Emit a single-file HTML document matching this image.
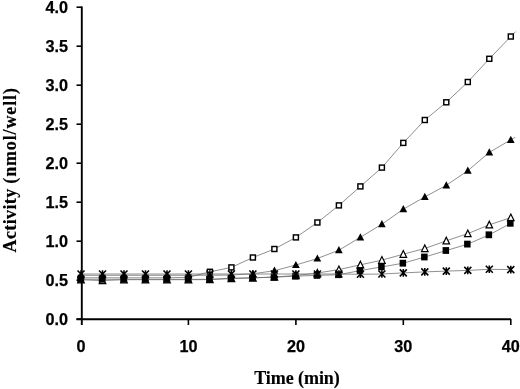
<!DOCTYPE html>
<html><head><meta charset="utf-8"><title>Activity vs Time</title>
<style>
html,body{margin:0;padding:0;background:#fff;}
svg{display:block;}
.tk{font-family:"Liberation Sans",sans-serif;font-weight:bold;font-size:16.2px;fill:#000;stroke:#000;stroke-width:0.25px;}
.lb{font-family:"Liberation Serif",serif;font-weight:bold;font-size:18px;fill:#000;stroke:#000;stroke-width:0.15px;}
</style></head><body>
<svg width="520" height="389" viewBox="0 0 520 389">
<rect width="520" height="389" fill="#fff"/>
<polyline points="81.0,277.8 102.5,277.8 124.0,277.8 145.5,277.8 167.0,277.8 188.4,277.3 209.9,271.8 231.4,267.4 252.9,257.5 274.4,249.0 295.9,237.4 317.4,222.5 338.9,205.4 360.4,186.4 381.9,167.6 403.3,142.9 424.8,120.0 446.3,102.3 467.8,82.0 489.3,58.8 510.8,36.5 515.6,31.6" fill="none" stroke="#6a6a6a" stroke-width="0.75"/>
<rect x="78.5" y="275.3" width="5" height="5" fill="#fff" stroke="#000" stroke-width="1.45"/>
<rect x="100.0" y="275.3" width="5" height="5" fill="#fff" stroke="#000" stroke-width="1.45"/>
<rect x="121.5" y="275.3" width="5" height="5" fill="#fff" stroke="#000" stroke-width="1.45"/>
<rect x="143.0" y="275.3" width="5" height="5" fill="#fff" stroke="#000" stroke-width="1.45"/>
<rect x="164.5" y="275.3" width="5" height="5" fill="#fff" stroke="#000" stroke-width="1.45"/>
<rect x="185.9" y="274.8" width="5" height="5" fill="#fff" stroke="#000" stroke-width="1.45"/>
<rect x="207.4" y="269.3" width="5" height="5" fill="#fff" stroke="#000" stroke-width="1.45"/>
<rect x="228.9" y="264.9" width="5" height="5" fill="#fff" stroke="#000" stroke-width="1.45"/>
<rect x="250.4" y="255.0" width="5" height="5" fill="#fff" stroke="#000" stroke-width="1.45"/>
<rect x="271.9" y="246.5" width="5" height="5" fill="#fff" stroke="#000" stroke-width="1.45"/>
<rect x="293.4" y="234.9" width="5" height="5" fill="#fff" stroke="#000" stroke-width="1.45"/>
<rect x="314.9" y="220.0" width="5" height="5" fill="#fff" stroke="#000" stroke-width="1.45"/>
<rect x="336.4" y="202.9" width="5" height="5" fill="#fff" stroke="#000" stroke-width="1.45"/>
<rect x="357.9" y="183.9" width="5" height="5" fill="#fff" stroke="#000" stroke-width="1.45"/>
<rect x="379.4" y="165.1" width="5" height="5" fill="#fff" stroke="#000" stroke-width="1.45"/>
<rect x="400.8" y="140.4" width="5" height="5" fill="#fff" stroke="#000" stroke-width="1.45"/>
<rect x="422.3" y="117.5" width="5" height="5" fill="#fff" stroke="#000" stroke-width="1.45"/>
<rect x="443.8" y="99.8" width="5" height="5" fill="#fff" stroke="#000" stroke-width="1.45"/>
<rect x="465.3" y="79.5" width="5" height="5" fill="#fff" stroke="#000" stroke-width="1.45"/>
<rect x="486.8" y="56.3" width="5" height="5" fill="#fff" stroke="#000" stroke-width="1.45"/>
<rect x="508.3" y="34.0" width="5" height="5" fill="#fff" stroke="#000" stroke-width="1.45"/>
<polyline points="81.0,275.3 102.5,275.3 124.0,275.3 145.5,275.3 167.0,275.3 188.4,275.3 209.9,275.3 231.4,275.0 252.9,273.8 274.4,270.7 295.9,265.0 317.4,258.5 338.9,250.2 360.4,237.3 381.9,224.2 403.3,209.2 424.8,196.9 446.3,185.3 467.8,170.7 489.3,152.4 510.8,139.8 515.2,137.3" fill="none" stroke="#6a6a6a" stroke-width="0.75"/>
<path d="M81.0 271.2L84.8 278.4L77.2 278.4Z" fill="#000"/>
<path d="M102.5 271.2L106.3 278.4L98.6 278.4Z" fill="#000"/>
<path d="M124.0 271.2L127.8 278.4L120.1 278.4Z" fill="#000"/>
<path d="M145.5 271.2L149.3 278.4L141.6 278.4Z" fill="#000"/>
<path d="M167.0 271.2L170.8 278.4L163.1 278.4Z" fill="#000"/>
<path d="M188.4 271.2L192.3 278.4L184.6 278.4Z" fill="#000"/>
<path d="M209.9 271.2L213.8 278.4L206.1 278.4Z" fill="#000"/>
<path d="M231.4 270.9L235.3 278.1L227.6 278.1Z" fill="#000"/>
<path d="M252.9 269.7L256.8 276.9L249.1 276.9Z" fill="#000"/>
<path d="M274.4 266.6L278.3 273.8L270.6 273.8Z" fill="#000"/>
<path d="M295.9 260.9L299.8 268.1L292.0 268.1Z" fill="#000"/>
<path d="M317.4 254.4L321.2 261.6L313.5 261.6Z" fill="#000"/>
<path d="M338.9 246.1L342.7 253.3L335.0 253.3Z" fill="#000"/>
<path d="M360.4 233.2L364.2 240.4L356.5 240.4Z" fill="#000"/>
<path d="M381.9 220.1L385.7 227.3L378.0 227.3Z" fill="#000"/>
<path d="M403.3 205.1L407.2 212.3L399.5 212.3Z" fill="#000"/>
<path d="M424.8 192.8L428.7 200.0L421.0 200.0Z" fill="#000"/>
<path d="M446.3 181.2L450.2 188.4L442.5 188.4Z" fill="#000"/>
<path d="M467.8 166.6L471.7 173.8L464.0 173.8Z" fill="#000"/>
<path d="M489.3 148.3L493.2 155.5L485.5 155.5Z" fill="#000"/>
<path d="M510.8 135.7L514.6 142.9L506.9 142.9Z" fill="#000"/>
<polyline points="81.0,279.8 102.5,280.6 124.0,279.7 145.5,279.7 167.0,279.7 188.4,279.7 209.9,279.6 231.4,278.6 252.9,278.0 274.4,277.0 295.9,275.5 317.4,273.0 338.9,269.6 360.4,264.8 381.9,260.2 403.3,254.2 424.8,248.5 446.3,240.8 467.8,233.6 489.3,224.8 510.8,217.6" fill="none" stroke="#6a6a6a" stroke-width="0.75"/>
<path d="M81.0 276.2L84.3 282.9L77.7 282.9Z" fill="#fff" stroke="#000" stroke-width="1.2"/>
<path d="M102.5 277.0L105.8 283.7L99.2 283.7Z" fill="#fff" stroke="#000" stroke-width="1.2"/>
<path d="M124.0 276.1L127.3 282.8L120.7 282.8Z" fill="#fff" stroke="#000" stroke-width="1.2"/>
<path d="M145.5 276.1L148.8 282.8L142.2 282.8Z" fill="#fff" stroke="#000" stroke-width="1.2"/>
<path d="M167.0 276.1L170.3 282.8L163.7 282.8Z" fill="#fff" stroke="#000" stroke-width="1.2"/>
<path d="M188.4 276.1L191.8 282.8L185.1 282.8Z" fill="#fff" stroke="#000" stroke-width="1.2"/>
<path d="M209.9 276.0L213.2 282.7L206.6 282.7Z" fill="#fff" stroke="#000" stroke-width="1.2"/>
<path d="M231.4 275.0L234.7 281.7L228.1 281.7Z" fill="#fff" stroke="#000" stroke-width="1.2"/>
<path d="M252.9 274.4L256.2 281.1L249.6 281.1Z" fill="#fff" stroke="#000" stroke-width="1.2"/>
<path d="M274.4 273.4L277.7 280.1L271.1 280.1Z" fill="#fff" stroke="#000" stroke-width="1.2"/>
<path d="M295.9 271.9L299.2 278.6L292.6 278.6Z" fill="#fff" stroke="#000" stroke-width="1.2"/>
<path d="M317.4 269.4L320.7 276.1L314.1 276.1Z" fill="#fff" stroke="#000" stroke-width="1.2"/>
<path d="M338.9 266.0L342.2 272.7L335.6 272.7Z" fill="#fff" stroke="#000" stroke-width="1.2"/>
<path d="M360.4 261.2L363.7 267.9L357.1 267.9Z" fill="#fff" stroke="#000" stroke-width="1.2"/>
<path d="M381.9 256.6L385.2 263.3L378.6 263.3Z" fill="#fff" stroke="#000" stroke-width="1.2"/>
<path d="M403.3 250.6L406.6 257.3L400.0 257.3Z" fill="#fff" stroke="#000" stroke-width="1.2"/>
<path d="M424.8 244.9L428.1 251.6L421.5 251.6Z" fill="#fff" stroke="#000" stroke-width="1.2"/>
<path d="M446.3 237.2L449.6 243.9L443.0 243.9Z" fill="#fff" stroke="#000" stroke-width="1.2"/>
<path d="M467.8 230.0L471.1 236.7L464.5 236.7Z" fill="#fff" stroke="#000" stroke-width="1.2"/>
<path d="M489.3 221.2L492.6 227.9L486.0 227.9Z" fill="#fff" stroke="#000" stroke-width="1.2"/>
<path d="M510.8 214.0L514.1 220.7L507.5 220.7Z" fill="#fff" stroke="#000" stroke-width="1.2"/>
<polyline points="81.0,279.3 102.5,279.3 124.0,279.3 145.5,279.3 167.0,279.3 188.4,279.3 209.9,279.3 231.4,278.2 252.9,277.7 274.4,277.2 295.9,276.1 317.4,275.4 338.9,274.7 360.4,270.5 381.9,266.9 403.3,263.2 424.8,257.0 446.3,250.5 467.8,244.1 489.3,234.8 510.8,223.3" fill="none" stroke="#6a6a6a" stroke-width="0.75"/>
<rect x="77.3" y="275.9" width="6.5" height="6.8" fill="#000"/>
<rect x="98.8" y="275.9" width="6.5" height="6.8" fill="#000"/>
<rect x="120.3" y="275.9" width="6.5" height="6.8" fill="#000"/>
<rect x="141.8" y="275.9" width="6.5" height="6.8" fill="#000"/>
<rect x="163.3" y="275.9" width="6.5" height="6.8" fill="#000"/>
<rect x="184.8" y="275.9" width="6.5" height="6.8" fill="#000"/>
<rect x="206.2" y="275.9" width="6.5" height="6.8" fill="#000"/>
<rect x="227.7" y="274.8" width="6.5" height="6.8" fill="#000"/>
<rect x="249.2" y="274.3" width="6.5" height="6.8" fill="#000"/>
<rect x="270.7" y="273.8" width="6.5" height="6.8" fill="#000"/>
<rect x="292.2" y="272.7" width="6.5" height="6.8" fill="#000"/>
<rect x="313.7" y="272.0" width="6.5" height="6.8" fill="#000"/>
<rect x="335.2" y="271.3" width="6.5" height="6.8" fill="#000"/>
<rect x="356.7" y="267.1" width="6.5" height="6.8" fill="#000"/>
<rect x="378.2" y="263.5" width="6.5" height="6.8" fill="#000"/>
<rect x="399.6" y="259.8" width="6.5" height="6.8" fill="#000"/>
<rect x="421.1" y="253.6" width="6.5" height="6.8" fill="#000"/>
<rect x="442.6" y="247.1" width="6.5" height="6.8" fill="#000"/>
<rect x="464.1" y="240.7" width="6.5" height="6.8" fill="#000"/>
<rect x="485.6" y="231.4" width="6.5" height="6.8" fill="#000"/>
<rect x="507.1" y="219.9" width="6.5" height="6.8" fill="#000"/>
<polyline points="81.0,274.0 102.5,274.0 124.0,274.0 145.5,274.0 167.0,274.0 188.4,274.0 209.9,274.0 231.4,274.0 252.9,274.0 274.4,274.0 295.9,274.0 317.4,274.0 338.9,274.0 360.4,274.3 381.9,274.0 403.3,272.9 424.8,271.9 446.3,271.1 467.8,270.4 489.3,269.3 510.8,269.6" fill="none" stroke="#6a6a6a" stroke-width="0.75"/>
<path d="M77.5 270.5L84.5 277.5M84.5 270.5L77.5 277.5M81.0 270.2L81.0 277.8" stroke="#000" stroke-width="1.55" fill="none"/>
<path d="M99.0 270.5L106.0 277.5M106.0 270.5L99.0 277.5M102.5 270.2L102.5 277.8" stroke="#000" stroke-width="1.55" fill="none"/>
<path d="M120.5 270.5L127.5 277.5M127.5 270.5L120.5 277.5M124.0 270.2L124.0 277.8" stroke="#000" stroke-width="1.55" fill="none"/>
<path d="M142.0 270.5L149.0 277.5M149.0 270.5L142.0 277.5M145.5 270.2L145.5 277.8" stroke="#000" stroke-width="1.55" fill="none"/>
<path d="M163.5 270.5L170.5 277.5M170.5 270.5L163.5 277.5M167.0 270.2L167.0 277.8" stroke="#000" stroke-width="1.55" fill="none"/>
<path d="M184.9 270.5L191.9 277.5M191.9 270.5L184.9 277.5M188.4 270.2L188.4 277.8" stroke="#000" stroke-width="1.55" fill="none"/>
<path d="M206.4 270.5L213.4 277.5M213.4 270.5L206.4 277.5M209.9 270.2L209.9 277.8" stroke="#000" stroke-width="1.55" fill="none"/>
<path d="M227.9 270.5L234.9 277.5M234.9 270.5L227.9 277.5M231.4 270.2L231.4 277.8" stroke="#000" stroke-width="1.55" fill="none"/>
<path d="M249.4 270.5L256.4 277.5M256.4 270.5L249.4 277.5M252.9 270.2L252.9 277.8" stroke="#000" stroke-width="1.55" fill="none"/>
<path d="M270.9 270.5L277.9 277.5M277.9 270.5L270.9 277.5M274.4 270.2L274.4 277.8" stroke="#000" stroke-width="1.55" fill="none"/>
<path d="M292.4 270.5L299.4 277.5M299.4 270.5L292.4 277.5M295.9 270.2L295.9 277.8" stroke="#000" stroke-width="1.55" fill="none"/>
<path d="M313.9 270.5L320.9 277.5M320.9 270.5L313.9 277.5M317.4 270.2L317.4 277.8" stroke="#000" stroke-width="1.55" fill="none"/>
<path d="M335.4 270.5L342.4 277.5M342.4 270.5L335.4 277.5M338.9 270.2L338.9 277.8" stroke="#000" stroke-width="1.55" fill="none"/>
<path d="M356.9 270.8L363.9 277.8M363.9 270.8L356.9 277.8M360.4 270.5L360.4 278.1" stroke="#000" stroke-width="1.55" fill="none"/>
<path d="M378.4 270.5L385.4 277.5M385.4 270.5L378.4 277.5M381.9 270.2L381.9 277.8" stroke="#000" stroke-width="1.55" fill="none"/>
<path d="M399.8 269.4L406.8 276.4M406.8 269.4L399.8 276.4M403.3 269.1L403.3 276.7" stroke="#000" stroke-width="1.55" fill="none"/>
<path d="M421.3 268.4L428.3 275.4M428.3 268.4L421.3 275.4M424.8 268.1L424.8 275.7" stroke="#000" stroke-width="1.55" fill="none"/>
<path d="M442.8 267.6L449.8 274.6M449.8 267.6L442.8 274.6M446.3 267.3L446.3 274.9" stroke="#000" stroke-width="1.55" fill="none"/>
<path d="M464.3 266.9L471.3 273.9M471.3 266.9L464.3 273.9M467.8 266.6L467.8 274.2" stroke="#000" stroke-width="1.55" fill="none"/>
<path d="M485.8 265.8L492.8 272.8M492.8 265.8L485.8 272.8M489.3 265.5L489.3 273.1" stroke="#000" stroke-width="1.55" fill="none"/>
<path d="M507.3 266.1L514.3 273.1M514.3 266.1L507.3 273.1M510.8 265.8L510.8 273.4" stroke="#000" stroke-width="1.55" fill="none"/>
<path d="M81.8 6.4V325" stroke="#000" stroke-width="1.9" fill="none"/>
<path d="M76.5 319.2H511" stroke="#000" stroke-width="1.9" fill="none"/>
<path d="M76.5 319.2H82" stroke="#000" stroke-width="1.6"/>
<text x="67.9" y="325.4" text-anchor="end" class="tk">0.0</text>
<path d="M76.5 280.2H82" stroke="#000" stroke-width="1.6"/>
<text x="67.9" y="286.4" text-anchor="end" class="tk">0.5</text>
<path d="M76.5 241.2H82" stroke="#000" stroke-width="1.6"/>
<text x="67.9" y="247.4" text-anchor="end" class="tk">1.0</text>
<path d="M76.5 202.2H82" stroke="#000" stroke-width="1.6"/>
<text x="67.9" y="208.4" text-anchor="end" class="tk">1.5</text>
<path d="M76.5 163.2H82" stroke="#000" stroke-width="1.6"/>
<text x="67.9" y="169.4" text-anchor="end" class="tk">2.0</text>
<path d="M76.5 124.2H82" stroke="#000" stroke-width="1.6"/>
<text x="67.9" y="130.4" text-anchor="end" class="tk">2.5</text>
<path d="M76.5 85.2H82" stroke="#000" stroke-width="1.6"/>
<text x="67.9" y="91.4" text-anchor="end" class="tk">3.0</text>
<path d="M76.5 46.2H82" stroke="#000" stroke-width="1.6"/>
<text x="67.9" y="52.4" text-anchor="end" class="tk">3.5</text>
<path d="M76.5 7.2H82" stroke="#000" stroke-width="1.6"/>
<text x="67.9" y="13.4" text-anchor="end" class="tk">4.0</text>
<path d="M188.4 319V325" stroke="#000" stroke-width="1.6"/>
<path d="M295.9 319V325" stroke="#000" stroke-width="1.6"/>
<path d="M403.3 319V325" stroke="#000" stroke-width="1.6"/>
<path d="M510.8 319V325" stroke="#000" stroke-width="1.6"/>
<text x="81.0" y="352" text-anchor="middle" class="tk">0</text>
<text x="188.4" y="352" text-anchor="middle" class="tk">10</text>
<text x="295.9" y="352" text-anchor="middle" class="tk">20</text>
<text x="403.3" y="352" text-anchor="middle" class="tk">30</text>
<text x="510.8" y="352" text-anchor="middle" class="tk">40</text>
<text x="297" y="384" text-anchor="middle" class="lb" textLength="85.5" lengthAdjust="spacing">Time (min)</text>
<text transform="translate(15.6 252.4) rotate(-90)" class="lb"><tspan x="0" textLength="63.6" lengthAdjust="spacing">Activity</tspan> <tspan x="68.7" textLength="95.6" lengthAdjust="spacing">(nmol/well)</tspan></text>
</svg>
</body></html>
